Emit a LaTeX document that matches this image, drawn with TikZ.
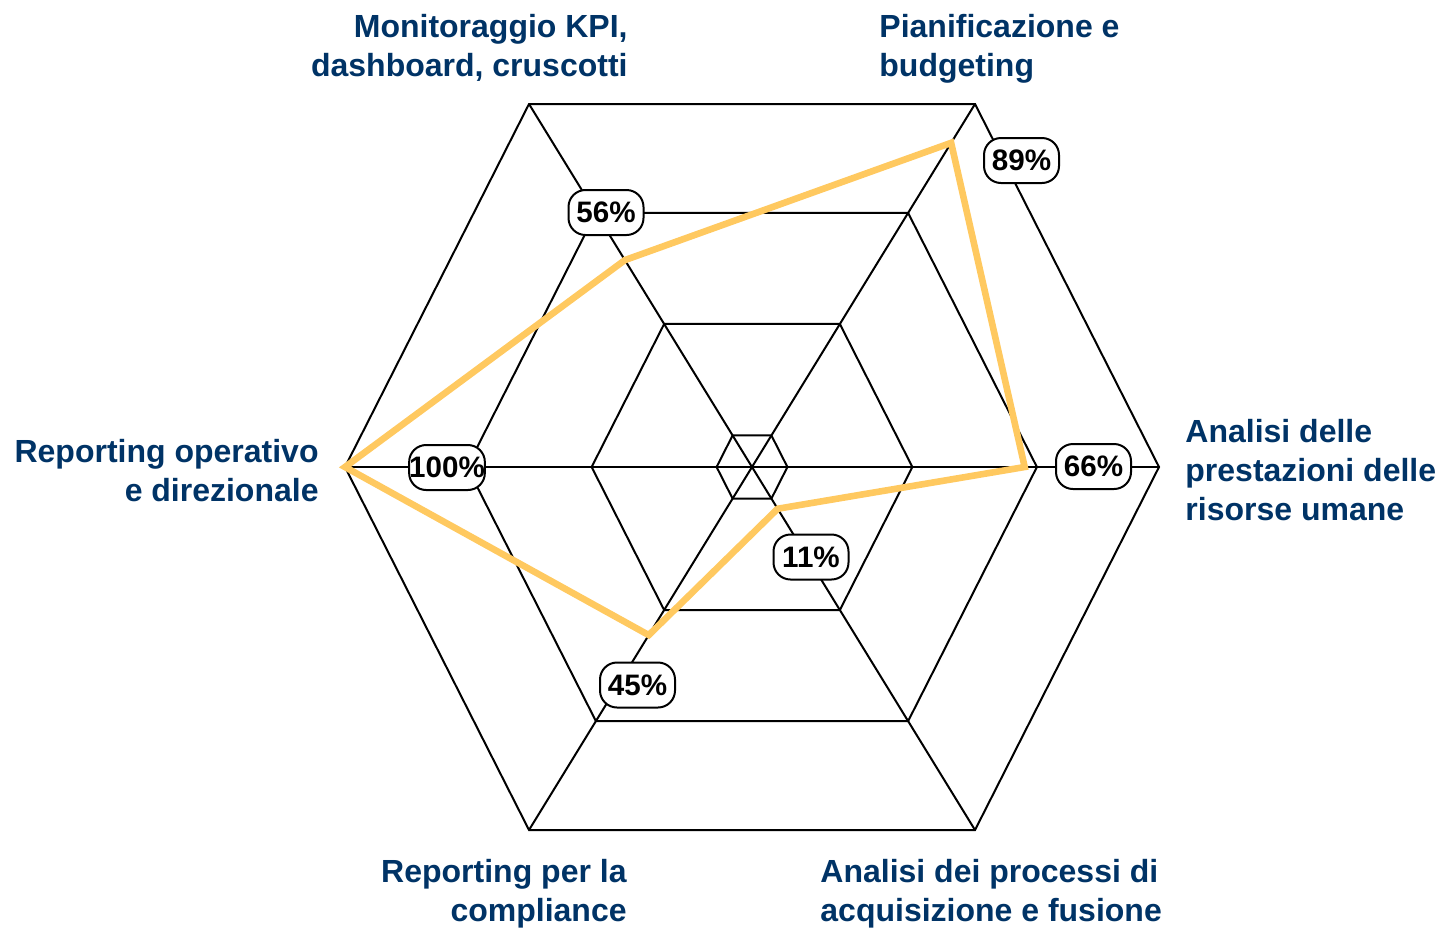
\documentclass[tikz,border=0pt]{standalone}
\usepackage{fontspec}
\setmainfont{Liberation Sans}
\usetikzlibrary{calc}
\definecolor{serieyellow}{RGB}{255,201,96}
\definecolor{catblue}{RGB}{0,51,102}
\begin{document}
\begin{tikzpicture}[x=0.5pt,y=-0.5pt,
  grid/.style={draw=black, line width=1pt, line join=miter},
  series/.style={draw=serieyellow, line width=3.3pt, line join=miter},
  pct/.style={draw=black, line width=1pt, fill=white, rounded corners=8.5pt,
    minimum width=37.5pt, minimum height=22.5pt, inner sep=0pt,
    font=\bfseries\fontsize{14.8pt}{16pt}\selectfont},
  cat/.style={text=catblue, inner sep=0pt, font=\bfseries\fontsize{16pt}{19.5pt}\selectfont}]
\useasboundingbox (0,0) rectangle (1443,927);
\coordinate (O) at (752,467);
\coordinate (vR) at (1159,467);
\coordinate (vTR) at (975,104);
\coordinate (vTL) at (529,104);
\coordinate (vL) at (345,467);
\coordinate (vBL) at (529,830);
\coordinate (vBR) at (975,830);
% grid rings
\foreach \f in {0.087,0.394,0.70,1}{
  \draw[grid] ($(O)!\f!(vR)$) -- ($(O)!\f!(vTR)$) -- ($(O)!\f!(vTL)$) -- ($(O)!\f!(vL)$)
    -- ($(O)!\f!(vBL)$) -- ($(O)!\f!(vBR)$) -- cycle;
}
% spokes
\foreach \v in {vR,vTR,vTL,vL,vBL,vBR}{
  \draw[grid] (O) -- (\v);
}
% data
\coordinate (pR) at ($(O)!0.67!(vR)$);
\coordinate (pTR) at ($(O)!0.893!(vTR)$);
\coordinate (pTL) at ($(O)!0.57!(vTL)$);
\coordinate (pL) at ($(O)!1!(vL)$);
\coordinate (pBL) at ($(O)!0.463!(vBL)$);
\coordinate (pBR) at ($(O)!0.115!(vBR)$);
\draw[series] (pR) -- (pTR) -- (pTL) -- (pL) -- (pBL) -- (pBR) -- cycle;
% value labels
\node[pct] (l89) at (1021.5,160.5) {89\%};
\node[pct] (l56) at (606,212.5) {56\%};
\node[pct] (l100) at (447,467.5) {100\%};
\node[pct] (l66) at (1093.5,466.5) {66\%};
\node[pct] (l11) at (811,557) {11\%};
\node[pct] (l45) at (637.5,685) {45\%};
% category labels
\node[cat, anchor=base east] (c1a) at (628,37) {Monitoraggio KPI,};
\node[cat, anchor=base east] (c1b) at (628,76) {dashboard, cruscotti};
\node[cat, anchor=base west] (c2a) at (879,37) {Pianificazione e};
\node[cat, anchor=base west] (c2b) at (879,76) {budgeting};
\node[cat, anchor=base west] (c3a) at (1185,442) {Analisi delle};
\node[cat, anchor=base west] (c3b) at (1185,481) {prestazioni delle};
\node[cat, anchor=base west] (c3c) at (1185,520) {risorse umane};
\node[cat, anchor=base east] (c4a) at (319,462) {Reporting operativo};
\node[cat, anchor=base east] (c4b) at (319,501) {e direzionale};
\node[cat, anchor=base east] (c5a) at (627,882) {Reporting per la};
\node[cat, anchor=base east] (c5b) at (627,921) {compliance};
\node[cat, anchor=base west] (c6a) at (820,882) {Analisi dei processi di};
\node[cat, anchor=base west] (c6b) at (820,921) {acquisizione e fusione};
\end{tikzpicture}
\end{document}
